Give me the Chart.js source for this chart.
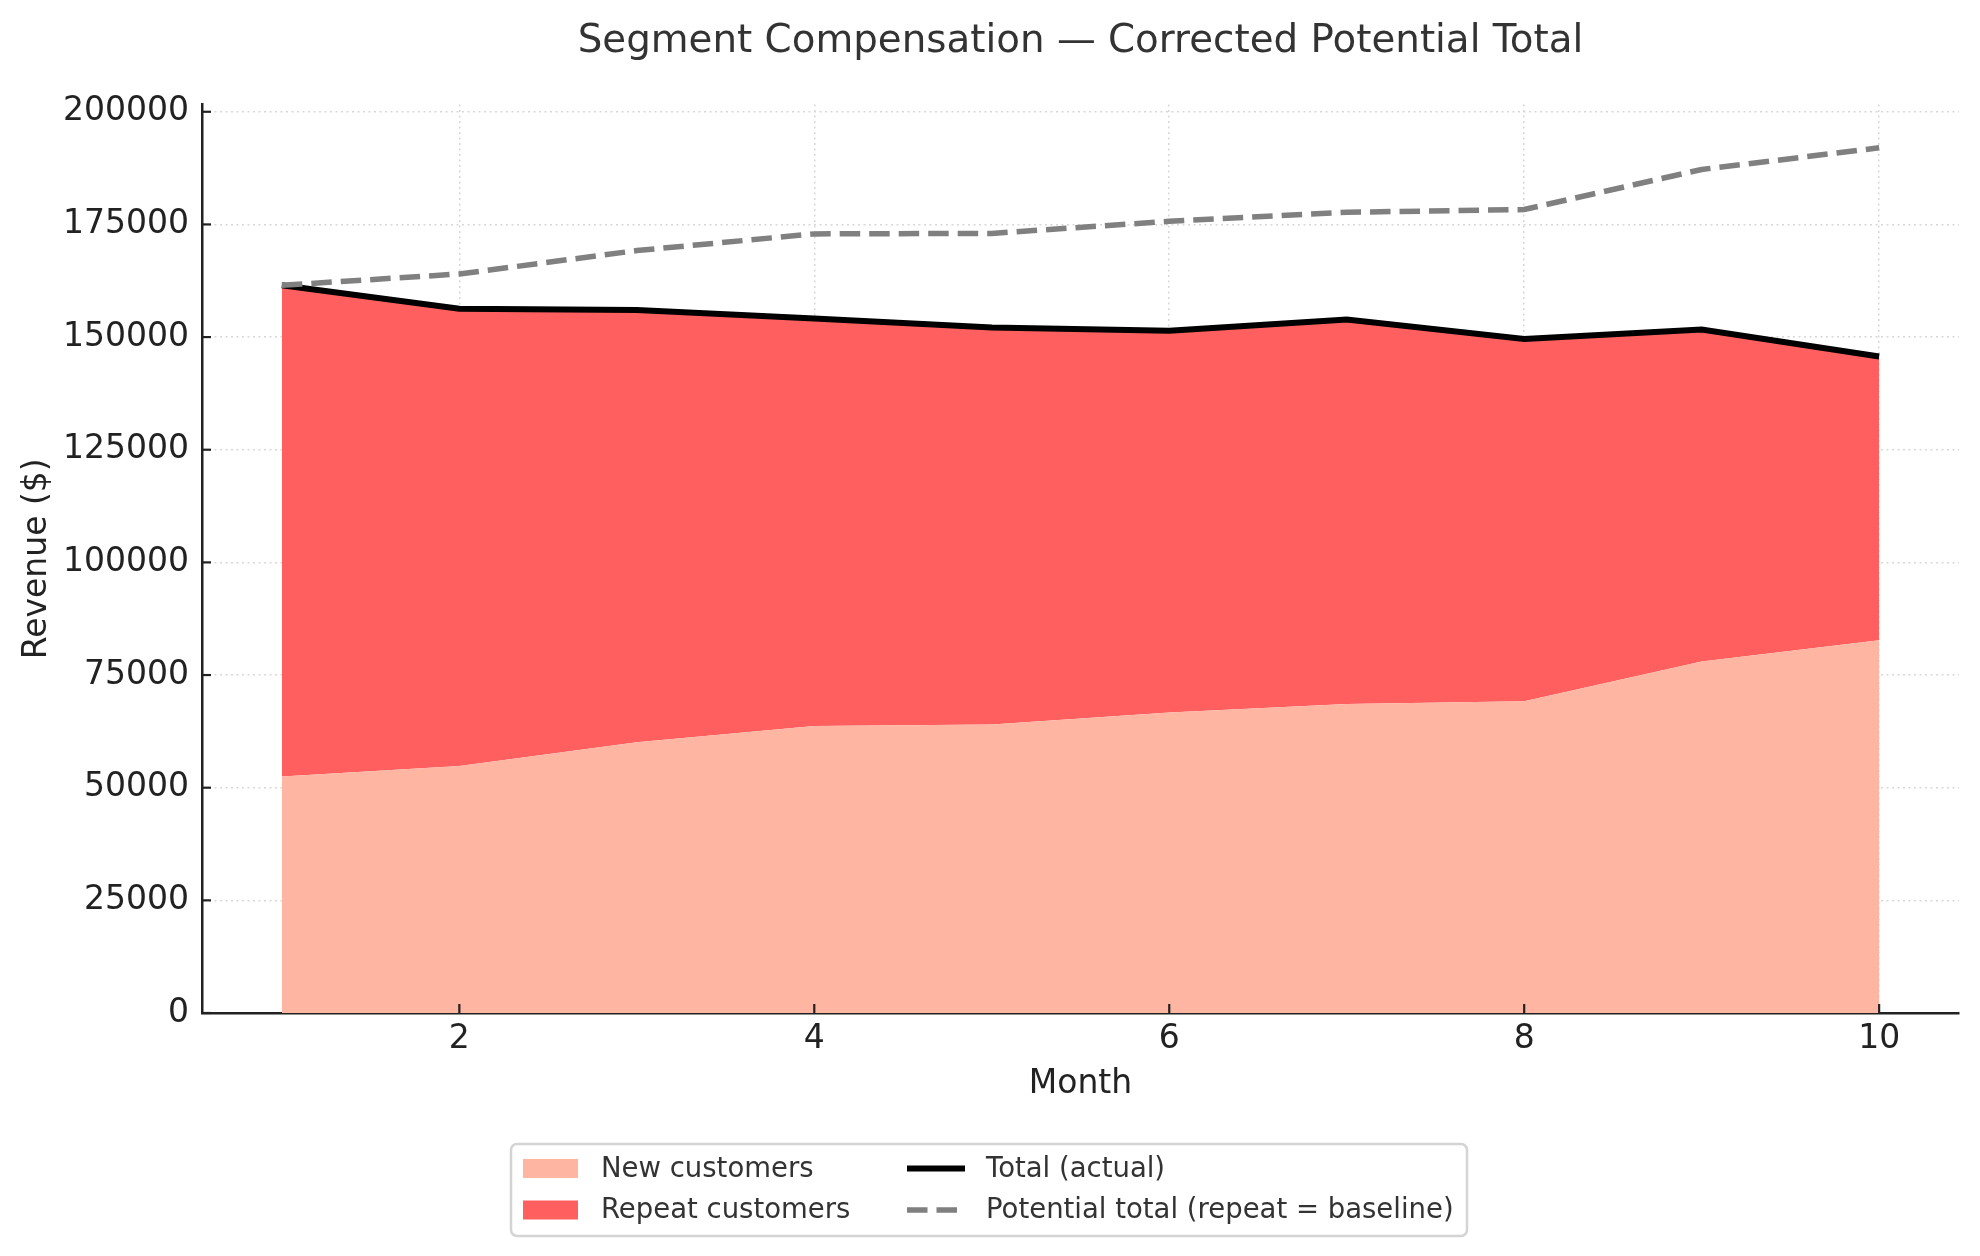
<!DOCTYPE html>
<html><head><meta charset="utf-8">
<script src="https://cdn.jsdelivr.net/npm/chart.js@4.4.1/dist/chart.umd.min.js"></script>
<style>html,body{margin:0;padding:0;background:#fff}canvas{display:block}</style>
</head><body>
<canvas id="c" width="1980" height="1256"></canvas>
<script>
// ---- data ----
const months = [1, 2, 3, 4, 5, 6, 7, 8, 9, 10];
const newCustomers    = [52500, 54800, 60100, 63700, 64050, 66700, 68600, 69200, 78000, 82700];
const repeatCustomers = [109000, 101500, 95900, 90400, 88050, 84700, 85300, 80400, 73700, 63000];
const totalActual     = [161500, 156300, 156000, 154100, 152100, 151400, 153900, 149600, 151700, 145700];
const potentialTotal  = [161500, 164000, 169200, 172900, 173000, 175700, 177700, 178300, 187200, 192000];
const xTickValues = [2, 4, 6, 8, 10];
const yTickValues = [0, 25000, 50000, 75000, 100000, 125000, 150000, 175000, 200000];
const seriesLabels = ['New customers', 'Repeat customers', 'Total (actual)', 'Potential total (repeat = baseline)'];
const titleText = 'Segment Compensation \u2014 Corrected Potential Total';
const xTitle = 'Month';
const yTitle = 'Revenue ($)';

const FONT = '"DejaVu Sans", "Liberation Sans", sans-serif';
const pts = arr => months.map((m, i) => ({x: m, y: arr[i]}));

const extras = {
  id: 'extras',
  afterDraw(chart) {
    const ctx = chart.ctx, xs = chart.scales.x, ys = chart.scales.y, ca = chart.chartArea;
    ctx.save();
    // inward tick marks
    ctx.strokeStyle = '#222'; ctx.lineWidth = 2.2; ctx.setLineDash([]);
    xs.ticks.forEach(t => { const p = xs.getPixelForValue(t.value); ctx.beginPath(); ctx.moveTo(p, ca.bottom); ctx.lineTo(p, ca.bottom - 9); ctx.stroke(); });
    ys.ticks.forEach(t => { const p = ys.getPixelForValue(t.value); ctx.beginPath(); ctx.moveTo(ca.left, p); ctx.lineTo(ca.left + 9, p); ctx.stroke(); });
    // legend box
    const bx = 511, by = 1144, bw = 956, bh = 92, r = 6;
    ctx.beginPath();
    ctx.moveTo(bx + r, by); ctx.lineTo(bx + bw - r, by); ctx.arcTo(bx + bw, by, bx + bw, by + r, r);
    ctx.lineTo(bx + bw, by + bh - r); ctx.arcTo(bx + bw, by + bh, bx + bw - r, by + bh, r);
    ctx.lineTo(bx + r, by + bh); ctx.arcTo(bx, by + bh, bx, by + bh - r, r);
    ctx.lineTo(bx, by + r); ctx.arcTo(bx, by, bx + r, by, r); ctx.closePath();
    ctx.fillStyle = 'rgba(255,255,255,0.85)'; ctx.fill();
    ctx.strokeStyle = '#d4d4d4'; ctx.lineWidth = 2.5; ctx.stroke();
    const colX = [523, 907], textX = [601, 986], rowY = [1169.5, 1211];
    ctx.font = '27.5px ' + FONT; ctx.textBaseline = 'middle'; ctx.textAlign = 'left';
    chart.data.datasets.forEach((ds, i) => {
      const c = Math.floor(i / 2), rr = i % 2, y = rowY[rr];
      if (ds.fill !== false) {
        ctx.fillStyle = ds.backgroundColor; ctx.fillRect(colX[c], y - 10.5, 55, 19);
      } else {
        ctx.strokeStyle = ds.borderColor; ctx.lineWidth = ds.borderWidth; ctx.lineCap = 'butt';
        ctx.setLineDash(ds.borderDash || []);
        ctx.beginPath(); ctx.moveTo(colX[c], y - 1); ctx.lineTo(colX[c] + 58, y - 1); ctx.stroke();
        ctx.setLineDash([]);
      }
      ctx.fillStyle = '#333'; ctx.fillText(ds.label, textX[c], y);
    });
    ctx.restore();
  }
};

new Chart(document.getElementById('c'), {
  type: 'line',
  data: {
    datasets: [
      { label: seriesLabels[0], data: pts(newCustomers), stack: 'seg', order: 2,
        fill: 'origin', backgroundColor: '#feb5a2', borderWidth: 0, pointRadius: 0 },
      { label: seriesLabels[1], data: pts(repeatCustomers), stack: 'seg', order: 3,
        fill: '-1', backgroundColor: '#ff5f5f', borderWidth: 0, pointRadius: 0 },
      { label: seriesLabels[2], data: pts(totalActual), stack: 'tot', order: 1,
        fill: false, borderColor: '#000', borderWidth: 6, pointRadius: 0 },
      { label: seriesLabels[3], data: pts(potentialTotal), stack: 'pot', order: 0,
        fill: false, borderColor: '#808080', borderWidth: 5.5, borderDash: [20.5, 9], pointRadius: 0 }
    ]
  },
  options: {
    responsive: false, devicePixelRatio: 1, animation: false,
    layout: { padding: { left: 0, right: 21, top: 0, bottom: 143 } },
    plugins: {
      legend: { display: false }, tooltip: { enabled: false },
      title: { display: true, text: titleText, color: '#333', fullSize: false,
        font: { family: FONT, size: 38.8, weight: 'normal' }, padding: { top: 19, bottom: 39 } }
    },
    elements: { line: { tension: 0, borderCapStyle: 'butt', borderJoinStyle: 'miter' } },
    scales: {
      x: { type: 'linear', min: 0.55, max: 10.45, z: 1,
        afterBuildTicks: s => { s.ticks = xTickValues.map(v => ({ value: v })); },
        ticks: { color: '#222', padding: 6.5,
          font: { family: FONT, size: 33 }, callback: v => String(v) },
        grid: { color: '#d8d8d8', lineWidth: 1.5, drawTicks: false },
        border: { color: '#222', width: 2.5, dash: [2, 3.5] },
        title: { display: true, text: xTitle, color: '#222', font: { family: FONT, size: 33 }, padding: { top: 0, bottom: 8.5 } },
        afterFit: s => { s.height = 100; } },
      y: { min: 0, max: 201600, stacked: true, z: 1,
        afterBuildTicks: s => { s.ticks = yTickValues.map(v => ({ value: v })); },
        ticks: { color: '#222', padding: 13,
          font: { family: FONT, size: 33 }, callback: v => String(v) },
        grid: { color: '#d8d8d8', lineWidth: 1.5, drawTicks: false },
        border: { color: '#222', width: 2.5, dash: [2, 3.5] },
        title: { display: true, text: yTitle, color: '#222', font: { family: FONT, size: 33 }, padding: { top: 18, bottom: 0 } },
        afterFit: s => { s.width = 202; } }
    }
  },
  plugins: [extras]
});
</script>
</body></html>
